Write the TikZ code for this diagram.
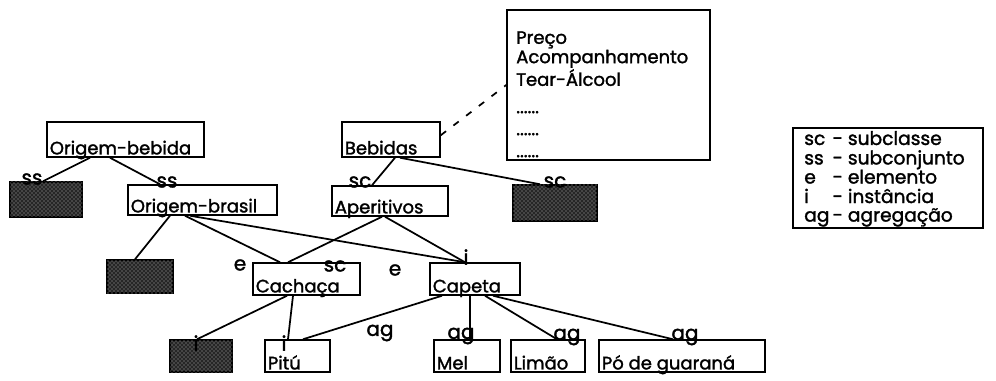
\documentclass[tikz,border=0pt]{standalone}
\usepackage{fontspec}
\setmainfont{Poppins}[FakeBold=1.6]
\usetikzlibrary{positioning,patterns,calc}

\begin{document}
\begin{tikzpicture}[
    x=0.75pt, y=-0.75pt,
    every node/.style={font=\fontsize{13.5}{12.5}\selectfont},
    box/.style 2 args={draw, line width=1.1pt, inner sep=0pt,
                minimum width=#1*0.75pt, minimum height=#2*0.75pt},
    txt/.style={anchor=base west, inner sep=0pt, xshift=2.5pt, yshift=2.5pt},
    hatched/.style={fill=black!85, postaction={pattern=crosshatch dots, pattern color=white!70!black}},
    rel/.style={font=\fontsize{15}{15}\selectfont, inner sep=0pt},
    con/.style={line width=1.3pt},
]
    \useasboundingbox (0,0) rectangle (996,381);

    % classes
    \node[box={157}{35}, label={[txt]south west:Origem-bebida}] (obeb) at (125.5,139.5) {};
    \node[box={149}{30}, label={[txt]south west:Origem-brasil}] (obra) at (202.5,200) {};
    \node[box={98}{35}, label={[txt]south west:Bebidas}] (beb) at (391,139.5) {};
    \node[box={116}{30}, label={[txt]south west:Aperitivos}] (aper) at (390,201) {};
    \node[box={107}{32}, label={[txt]south west:Cachaça}] (cach) at (306.5,279) {};
    \node[box={90}{32}, label={[txt]south west:Capeta}] (cape) at (475,279) {};
    \node[box={65}{32}, label={[txt]south west:Pitú}] (pitu) at (297.5,356) {};
    \node[box={66}{32}, label={[txt]south west:Mel}] (mel) at (467,356) {};
    \node[box={74}{32}, label={[txt]south west:Limão}] (limao) at (548,356) {};
    \node[box={166}{32}, label={[txt]south west:Pó de guaraná}] (po) at (682,356) {};

    % shaded boxes
    \node[box={72}{35}, hatched] (sh1) at (46,199.5) {};
    \node[box={66}{33}, hatched] (sh2) at (140,276.5) {};
    \node[box={84}{36}, hatched] (sh3) at (555,203) {};
    \node[box={62}{32}, hatched] (sh4) at (201,356) {};

    % attributes
    \node[box={203}{150}] (attr) at (608.5,85) {};
    \node[anchor=north west, align=left, inner sep=0pt] (attrtxt) at (516,31)
        {Preço\\Acompanhamento\\Tear-Álcool\\[8pt]......\\[4pt]......\\[4pt]......};

    % legend
    \node[box={190}{100}] (leg) at (888,178) {};
    \node[anchor=west, inner sep=0pt, font=\fontsize{14}{13.2}\selectfont] (legtxt) at (804,179)
        {\begin{tabular}{@{}l@{\,}l@{}}
         sc & - subclasse\\
         ss & - subconjunto\\
         e & - elemento\\
         i & - instância\\
         ag & - agregação
         \end{tabular}};

    % connectors
    \draw[con] ($(obeb.south)+(-35.5,0)$) -- ($(sh1.north)+(-3,0)$);
    \draw[con] ($(obeb.south)+(-15.5,0)$) -- ($(obra.north)+(-42.5,0)$);
    \draw[con] ($(beb.south)+(4,0)$) -- ($(aper.north)+(-18,0)$);
    \draw[con] ($(beb.south)+(9,0)$) -- ($(sh3.north)+(-15,0)$);
    \draw[con, dash pattern=on 5pt off 7pt] ($(beb.north east)+(0,14)$) -- (attr.west);
    \draw[con] ($(obra.south)+(-32.5,0)$) -- ($(sh2.north)+(-5,0)$);
    \draw[con] ($(obra.south)+(-17.5,0)$) -- ($(cach.north)+(-26.5,0)$);
    \draw[con] ($(obra.south)+(-12.5,0)$) -- ($(cape.north)+(-10,0)$);
    \draw[con] ($(aper.south)+(-8,0)$) -- ($(cach.north)+(-18.5,0)$);
    \draw[con] ($(aper.south)+(-5,0)$) -- ($(cape.north)+(-10,0)$);
    \draw[con] ($(cach.south)+(-19.5,0)$) -- ($(sh4.north)+(-4,0)$);
    \draw[con] ($(cach.south)+(-13.5,0)$) -- ($(pitu.north)+(-9.5,0)$);
    \draw[con] ($(cape.south)+(-33,0)$) -- ($(pitu.north)+(5.5,0)$);
    \draw[con] ($(cape.south)+(-5,0)$) -- ($(mel.north)+(3,0)$);
    \draw[con] ($(cape.south)+(10,0)$) -- ($(limao.north)+(9,0)$);
    \draw[con] ($(cape.south)+(18,0)$) -- ($(po.north)+(-9,0)$);

    % relation labels
    \node[rel] (r1) at (32,179) {ss};
    \node[rel] (r2) at (167,182) {ss};
    \node[rel] (r3) at (360,182) {sc};
    \node[rel] (r4) at (555,182) {sc};
    \node[rel] (r5) at (240,265) {e};
    \node[rel] (r6) at (335,266) {sc};
    \node[rel] (r7) at (395,270) {e};
    \node[rel] (r8) at (466,257) {i};
    \node[rel] (r9) at (196,343) {i};
    \node[rel] (r10) at (284,343) {i};
    \node[rel] (r11) at (380,333) {ag};
    \node[rel] (r12) at (461,336) {ag};
    \node[rel] (r13) at (567,337) {ag};
    \node[rel] (r14) at (685,337) {ag};
\end{tikzpicture}
\end{document}
